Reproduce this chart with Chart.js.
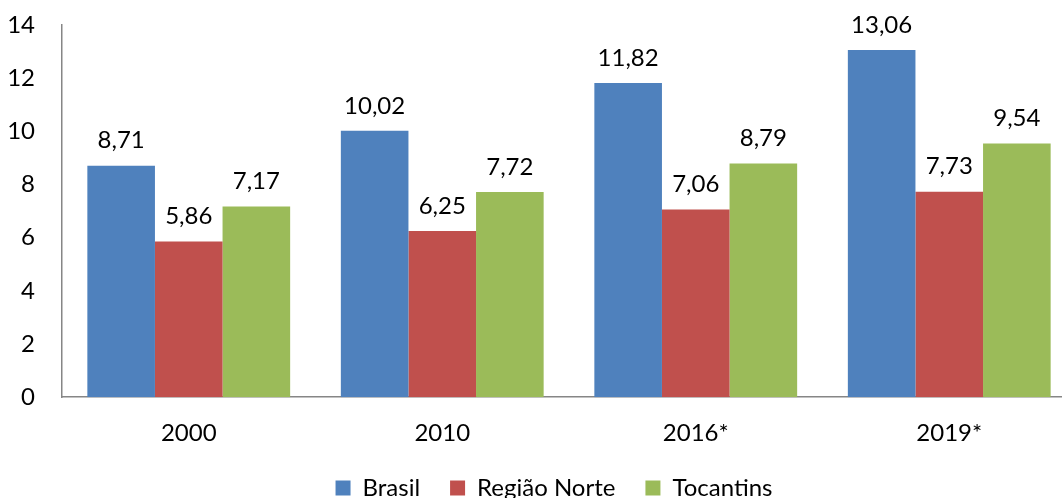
<!DOCTYPE html>
<html>
<head>
<meta charset="utf-8">
<script src="https://cdn.jsdelivr.net/npm/chart.js@4/dist/chart.umd.min.js"></script>
<style>
  html, body { margin: 0; padding: 0; background: #fff; overflow: hidden; }
  #wrap { width: 1062px; height: 498px; overflow: hidden; }
</style>
</head>
<body>
<div id="wrap"><canvas id="chart" width="1136" height="498"></canvas></div>
<script>
const categories = ["2000", "2010", "2016*", "2019*"];
const brasil = [8.71, 10.02, 11.82, 13.06];
const regiaoNorte = [5.86, 6.25, 7.06, 7.73];
const tocantins = [7.17, 7.72, 8.79, 9.54];
const yTicks = [0, 2, 4, 6, 8, 10, 12, 14];

const fontFamily = "Lato, 'Open Sans', sans-serif";

// draws the value above each bar, with comma decimals
const valueLabels = {
  id: "valueLabels",
  afterDatasetsDraw(chart) {
    const ctx = chart.ctx;
    ctx.save();
    ctx.font = "24px " + fontFamily;
    ctx.fillStyle = "#000";
    ctx.textAlign = "center";
    ctx.textBaseline = "middle";
    chart.data.datasets.forEach((ds, i) => {
      chart.getDatasetMeta(i).data.forEach((bar, j) => {
        const txt = ds.data[j].toFixed(2).replace(".", ",");
        ctx.fillText(txt, bar.x, bar.y - 25);
      });
    });
    ctx.restore();
  },
};

// nudge the legend a bit to the right, like the original
const legendShift = {
  id: "legendShift",
  afterLayout(chart) {
    chart.legend.left += 16;
    chart.legend.right += 16;
  },
};

const data = {
  labels: categories,
  datasets: [
    { label: "Brasil", data: brasil, backgroundColor: "#4F81BD" },
    { label: "Região Norte", data: regiaoNorte, backgroundColor: "#C0504D" },
    { label: "Tocantins", data: tocantins, backgroundColor: "#9BBB59" },
  ],
};

const config = {
  type: "bar",
  data: data,
  plugins: [valueLabels, legendShift],
  options: {
    responsive: false,
    animation: false,
    layout: { padding: { left: 0, right: 60, top: 25, bottom: -12 } },
    datasets: {
      bar: { barPercentage: 1, categoryPercentage: 0.8 },
    },
    scales: {
      y: {
        min: 0,
        max: 14,
        afterBuildTicks(axis) {
          axis.ticks = yTicks.map((v) => ({ value: v }));
        },
        afterFit(axis) {
          axis.width = 62;
          // tick padding should only push labels sideways, not the plot top
          axis.paddingTop = 0;
          axis.paddingBottom = 0;
        },
        grid: { display: false, drawTicks: false },
        border: { color: "#868686", width: 1.5 },
        ticks: { color: "#000", font: { size: 24, family: fontFamily }, padding: 27 },
      },
      x: {
        afterFit(axis) {
          axis.height = axis.height - 24;
        },
        grid: { display: false, drawTicks: false },
        border: { color: "#868686", width: 1.5 },
        ticks: { color: "#000", font: { size: 24, family: fontFamily }, padding: 22 },
      },
    },
    plugins: {
      legend: {
        position: "bottom",
        labels: {
          color: "#000",
          font: { size: 24, family: fontFamily },
          boxWidth: 15,
          boxHeight: 15,
          padding: 30,
        },
      },
      tooltip: { enabled: false },
    },
  },
};

new Chart(document.getElementById("chart"), config);
</script>
</body>
</html>
